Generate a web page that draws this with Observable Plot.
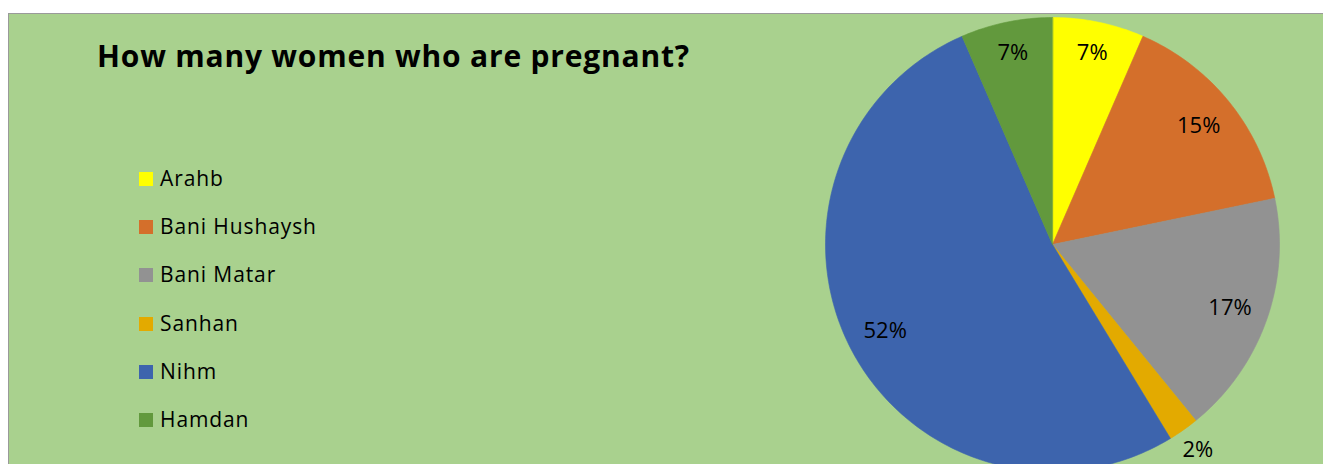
<!DOCTYPE html>
<html><head><meta charset="utf-8">
<script src="https://cdn.jsdelivr.net/npm/d3@7"></script>
<script src="https://cdn.jsdelivr.net/npm/@observablehq/plot@0.6"></script>
<style>
html,body{margin:0;padding:0;background:#fff;overflow:hidden;width:1323px;height:464px;font-family:"Open Sans",sans-serif;}
#box{position:absolute;left:8px;top:13px;width:1400px;height:520px;background:#A9D18E;border:1px solid #9a9a9a;box-sizing:border-box;}
#title{position:absolute;left:97px;top:41px;font-weight:bold;font-size:30px;letter-spacing:0.8px;line-height:1;color:#000;white-space:nowrap;}
.item{position:absolute;left:139px;height:21px;line-height:1;font-size:21px;letter-spacing:0.9px;white-space:nowrap;color:#000;}
.sw{position:absolute;left:0;width:14px;height:14px;}
.lt{position:absolute;left:21px;top:0;}
#chart{position:absolute;left:0;top:0;}
</style></head>
<body>
<div id="box"></div>
<div id="title">How many women who are pregnant?</div>
<div id="legend"></div>
<div id="chart"></div>
<script>
const titleText = "How many women who are pregnant?";
const categories = ["Arahb", "Bani Hushaysh", "Bani Matar", "Sanhan", "Nihm", "Hamdan"];
const counts = [3, 7, 8, 1, 24, 3];
const colors = ["#FFFF00", "#D46F2B", "#929292", "#E3AA00", "#3D64AD", "#62993D"];

const total = d3.sum(counts);
const arcs = d3.pie().sort(null).value(d => d)(counts);

// slice polygons derived from the data
const pts = [];
arcs.forEach((a, i) => {
  pts.push({cat: categories[i], x: 0, y: 0});
  const n = Math.max(2, Math.ceil((a.endAngle - a.startAngle) / (Math.PI / 180)));
  for (let k = 0; k <= n; k++) {
    const t = a.startAngle + (a.endAngle - a.startAngle) * k / n;
    pts.push({cat: categories[i], x: Math.sin(t), y: Math.cos(t)});
  }
});

const labels = arcs.map((a, i) => {
  const share = counts[i] / total;
  const mid = (a.startAngle + a.endAngle) / 2;
  const r = share < 0.05 ? 1.11 : (share < 0.1 ? 0.86 : 0.83);
  return {x: r * Math.sin(mid), y: r * Math.cos(mid), text: Math.round(share * 100) + "%"};
});

const R = 227, cx = 1052, cy = 244, W = 1323, H = 464;
const chart = Plot.plot({
  width: W, height: H, margin: 0,
  style: {background: "transparent", fontFamily: "Open Sans"},
  x: {domain: [-cx / R, (W - cx) / R], axis: null},
  y: {domain: [-(H - cy) / R, cy / R], axis: null},
  color: {domain: categories, range: colors},
  marks: [
    Plot.line(pts, {x: "x", y: "y", z: "cat", fill: "cat", stroke: "cat", strokeWidth: 0.6, curve: "linear-closed"}),
    Plot.text(labels, {x: "x", y: "y", text: "text", fontSize: 22, fill: "#000", stroke: "none"})
  ]
});
document.getElementById("chart").appendChild(chart);

const leg = document.getElementById("legend");
categories.forEach((c, i) => {
  const it = document.createElement("div");
  it.className = "item";
  it.style.top = (168 + i * 48.2) + "px";
  const sw = document.createElement("div");
  sw.className = "sw"; sw.style.background = colors[i]; sw.style.top = "4px";
  const t = document.createElement("div");
  t.className = "lt"; t.textContent = c;
  it.appendChild(sw); it.appendChild(t);
  leg.appendChild(it);
});
</script>
</body></html>
